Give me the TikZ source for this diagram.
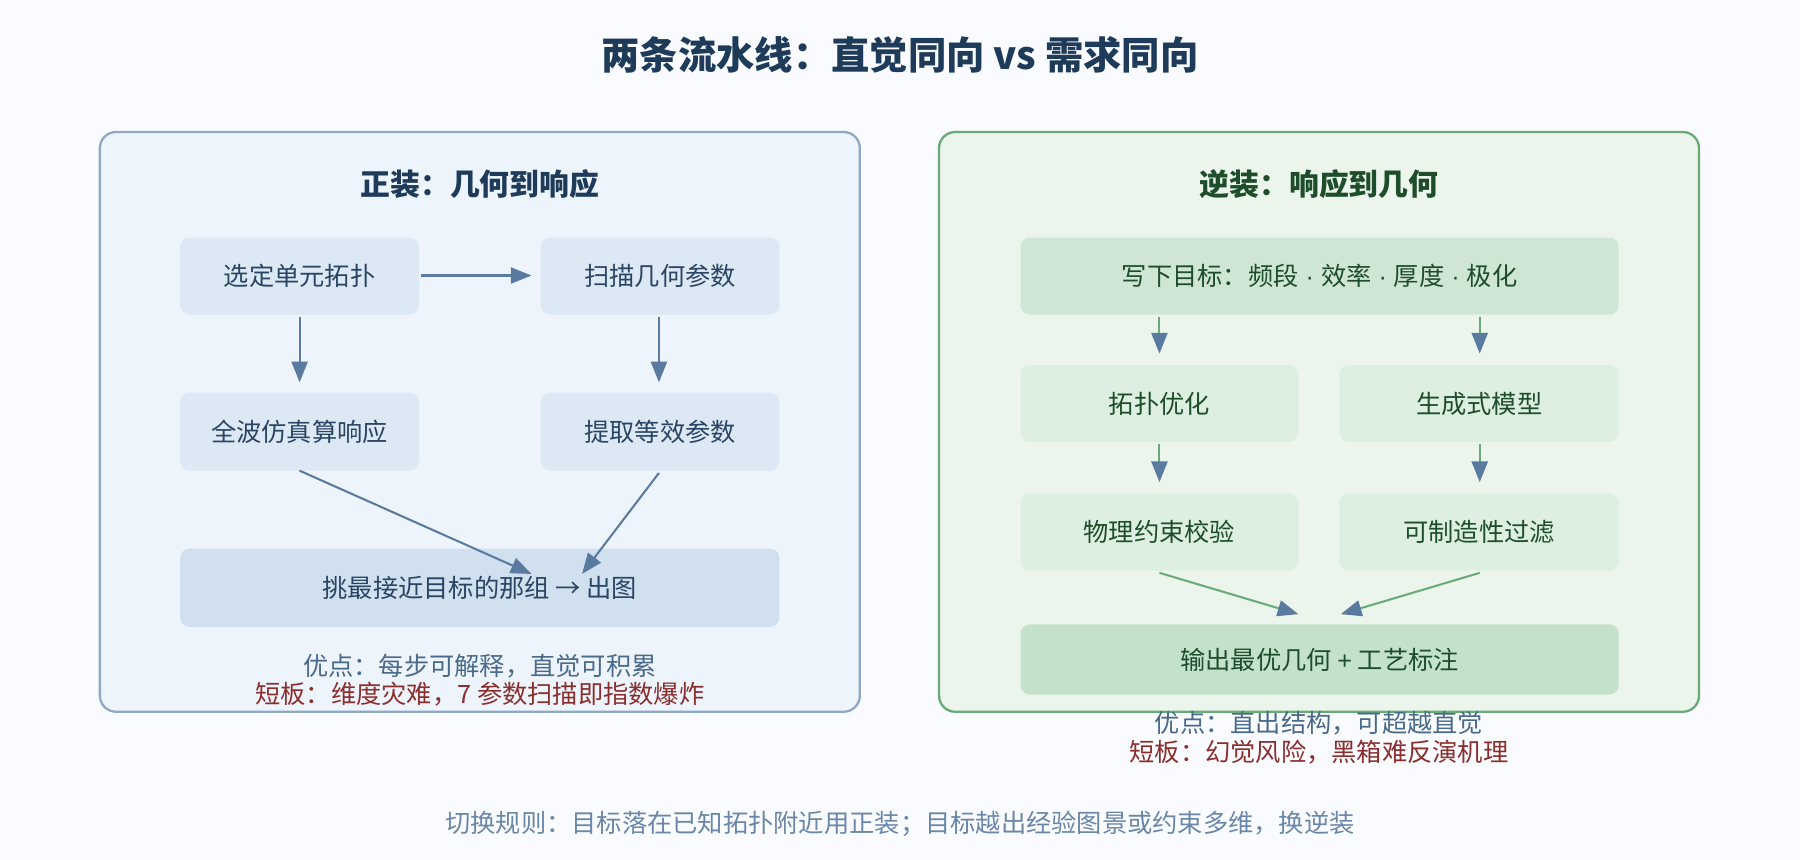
\documentclass[tikz,border=0pt]{standalone}
\usepackage{fontspec}
\setmainfont{Noto Sans CJK SC}
\newfontfamily\latinf{Liberation Sans}
\usetikzlibrary{arrows.meta}
\definecolor{bgpage}{HTML}{F9FBFE}
\definecolor{navy}{HTML}{1F3B5A}
\definecolor{bluetxt}{HTML}{2A4563}
\definecolor{bluepanel}{HTML}{EEF4FB}
\definecolor{blueedge}{HTML}{8FA9C4}
\definecolor{bluebox}{HTML}{DCE8F4}
\definecolor{blueout}{HTML}{D0E0EF}
\definecolor{arrowblue}{HTML}{5B7AA0}
\definecolor{greentxt}{HTML}{1E4D2B}
\definecolor{greenpanel}{HTML}{EBF5EC}
\definecolor{greenedge}{HTML}{6AAA78}
\definecolor{greenbox}{HTML}{DDEFE0}
\definecolor{greentop}{HTML}{CFE6D4}
\definecolor{greenout}{HTML}{C4E2CB}
\definecolor{grey}{HTML}{4A6A8A}
\definecolor{redtxt}{HTML}{8B2E2E}
\definecolor{foot}{HTML}{6A87A8}
\newcommand{\mdot}{{\latinf\ ·\ }}
\begin{document}
\begin{tikzpicture}[x=0.5pt,y=-0.5pt,
panel/.style={
% The frame:
rectangle,rounded corners=7pt,line width=1pt
},
box/.style={
rectangle,rounded corners=4pt,draw=none,
font=\fontsize{11}{13}\selectfont,
text centered
},
flow/.style={-{Triangle[length=9pt,width=7pt]},line width=0.9pt,draw=arrowblue,fill=arrowblue},
gflow/.style={flow,draw=greenedge,-{Triangle[length=9pt,width=7pt,color=arrowblue]}}
]
\fill[bgpage] (0,0) rectangle (1568,749);
\node (title) at (784,48) {\fontsize{16.7}{20}\selectfont\bfseries\color{navy}两条流水线：直觉同向 vs 需求同向};

% Left panel
\draw[panel,fill=bluepanel,draw=blueedge] (87,115) rectangle (749,620);
\node (ltitle) at (418,160) {\fontsize{13}{15}\selectfont\bfseries\color{navy}正装：几何到响应};
\fill[bluebox,rounded corners=4pt] (157,207) rectangle (365,274) node[box,midway,text=bluetxt] (pick) {选定单元拓扑};
\fill[bluebox,rounded corners=4pt] (471,207) rectangle (679,274) node[box,midway,text=bluetxt] (scan) {扫描几何参数};
\fill[bluebox,rounded corners=4pt] (157,342) rectangle (365,410) node[box,midway,text=bluetxt] (sim) {全波仿真算响应};
\fill[bluebox,rounded corners=4pt] (471,342) rectangle (679,410) node[box,midway,text=bluetxt] (extract) {提取等效参数};
\fill[blueout,rounded corners=4pt] (157,478) rectangle (679,546) node[box,midway,text=bluetxt] (choose) {挑最接近目标的那组 → 出图};
\coordinate (ca) at (261,276); \coordinate (cb) at (574,276);
\coordinate (cc) at (261,410); \coordinate (cd) at (574,412);
\coordinate (ce) at (367,240); \coordinate (cf) at (463,240);
\coordinate (cg) at (261,333); \coordinate (ch) at (574,333);
\coordinate (ci) at (463,500); \coordinate (cj) at (507,500);
\path (ce) edge[flow] (cf) (ca) edge[flow] (cg) (cb) edge[flow] (ch)
(cc) edge[flow] (ci) (cd) edge[flow] (cj);
\node[box,text=grey] (lpro) at (418,580) {优点：每步可解释，直觉可积累};
\node[box,text=redtxt] (lcon) at (418,605) {短板：维度灾难，7 参数扫描即指数爆炸};

% Right panel
\draw[panel,fill=greenpanel,draw=greenedge] (818,115) rectangle (1480,620);
\node (rtitle) at (1149,160) {\fontsize{13}{15}\selectfont\bfseries\color{greentxt}逆装：响应到几何};
\fill[greentop,rounded corners=4pt] (889,207) rectangle (1410,274) node[box,midway,text=greentxt] (goal) {写下目标：频段\mdot 效率\mdot 厚度\mdot 极化};
\fill[greenbox,rounded corners=4pt] (889,318) rectangle (1131,385) node[box,midway,text=greentxt] (topo) {拓扑优化};
\fill[greenbox,rounded corners=4pt] (1167,318) rectangle (1410,385) node[box,midway,text=greentxt] (gen) {生成式模型};
\fill[greenbox,rounded corners=4pt] (889,430) rectangle (1131,497) node[box,midway,text=greentxt] (phys) {物理约束校验};
\fill[greenbox,rounded corners=4pt] (1167,430) rectangle (1410,497) node[box,midway,text=greentxt] (fab) {可制造性过滤};
\fill[greenout,rounded corners=4pt] (889,544) rectangle (1410,605) node[box,midway,text=greentxt] (output) {输出最优几何 {\latinf +} 工艺标注};
\coordinate (g1) at (1010,276); \coordinate (g2) at (1010,308);
\coordinate (g3) at (1289,276); \coordinate (g4) at (1289,308);
\coordinate (g5) at (1010,387); \coordinate (g6) at (1010,420);
\coordinate (g7) at (1289,387); \coordinate (g8) at (1289,420);
\coordinate (g9) at (1010,499); \coordinate (g10) at (1131,535);
\coordinate (g11) at (1289,499); \coordinate (g12) at (1168,535);
\path (g1) edge[gflow] (g2) (g3) edge[gflow] (g4) (g5) edge[gflow] (g6)
(g7) edge[gflow] (g8) (g9) edge[gflow] (g10) (g11) edge[gflow] (g12);
\node[box,text=grey] (rpro) at (1149,630) {优点：直出结构，可超越直觉};
\node[box,text=redtxt] (rcon) at (1149,655) {短板：幻觉风险，黑箱难反演机理};

\node[box,text=foot] (rule) at (784,718) {切换规则：目标落在已知拓扑附近用正装；目标越出经验图景或约束多维，换逆装};
\end{tikzpicture}
\end{document}
